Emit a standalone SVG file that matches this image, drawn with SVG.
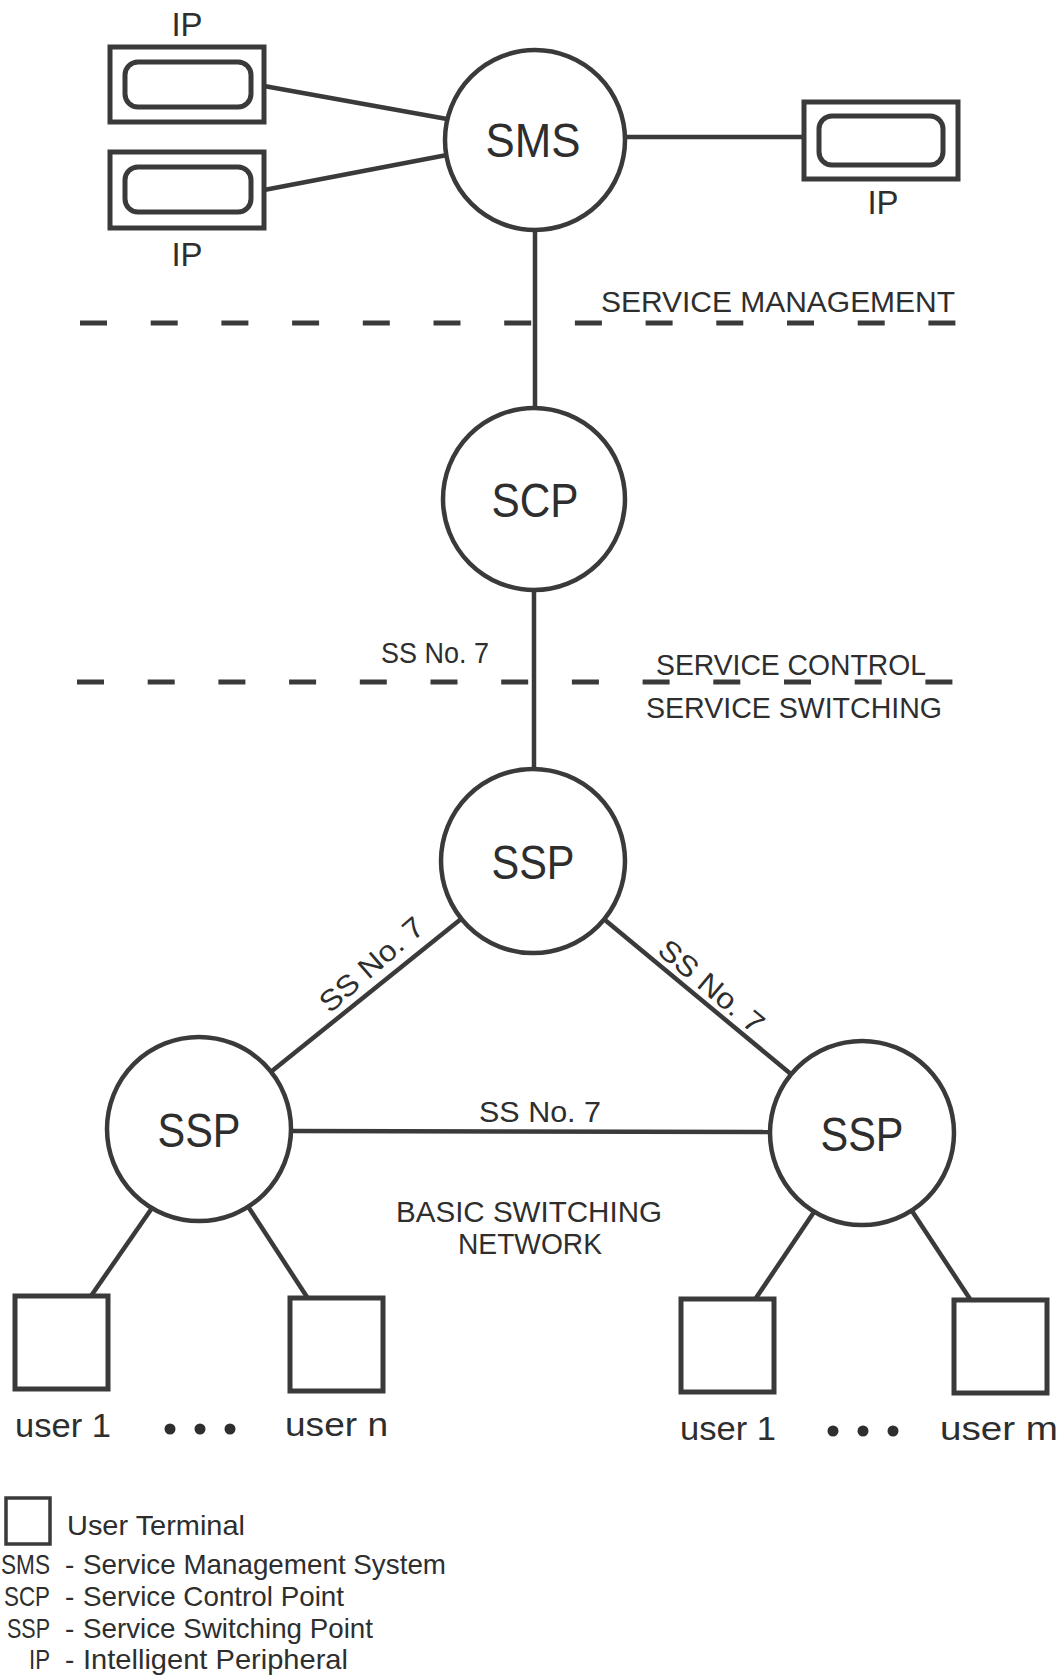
<svg xmlns="http://www.w3.org/2000/svg" width="1064" height="1677" viewBox="0 0 1064 1677">
<style>
.node{fill:#fff;stroke:#3a3a3a;stroke-width:4.5}
.box{fill:#fff;stroke:#3a3a3a;stroke-width:5}
.ln{stroke:#3a3a3a;stroke-width:4.5;fill:none}
.dash{stroke:#3a3a3a;stroke-width:5;stroke-dasharray:27 43.7;fill:none}
text{font-family:"Liberation Sans",Arial,sans-serif;fill:#2e2e2e}
.big{font-size:48px;text-anchor:middle}
.lab{font-size:30px}
.ss{font-size:29px}
.usr{font-size:34px}
.leg{font-size:28px}
</style>
<rect width="1064" height="1677" fill="#fff"/>
<g id="connectors">
<line class="ln" x1="264" y1="86" x2="447" y2="119"/>
<line class="ln" x1="264" y1="190" x2="447" y2="155"/>
<line class="ln" x1="624" y1="137" x2="804" y2="137"/>
<line class="ln" x1="535" y1="230" x2="535" y2="408"/>
<line class="ln" x1="534" y1="590" x2="534" y2="769"/>
<line class="ln" x1="461" y1="919" x2="272" y2="1071"/>
<line class="ln" x1="605" y1="920" x2="792" y2="1075"/>
<line class="ln" x1="291" y1="1131" x2="770" y2="1132"/>
<line class="ln" x1="152" y1="1208" x2="91" y2="1296"/>
<line class="ln" x1="249" y1="1208" x2="307" y2="1297"/>
<line class="ln" x1="814" y1="1212" x2="756" y2="1298"/>
<line class="ln" x1="912" y1="1211" x2="970" y2="1299"/>
</g>
<g id="separators">
<line class="dash" x1="80" y1="323" x2="956" y2="323"/>
<line class="dash" x1="77" y1="682" x2="953" y2="682"/>
<text class="lab" x="601" y="312" textLength="354" lengthAdjust="spacingAndGlyphs">SERVICE MANAGEMENT</text>
<text class="lab" x="656" y="675" textLength="270" lengthAdjust="spacingAndGlyphs">SERVICE CONTROL</text>
<text class="lab" x="646" y="718" textLength="296" lengthAdjust="spacingAndGlyphs">SERVICE SWITCHING</text>
</g>
<g id="ip1">
<rect class="box" x="110" y="47" width="154" height="75"/>
<rect class="box" x="125" y="62" width="126" height="45" rx="13"/>
<text class="big" x="187" y="36" style="font-size:33px">IP</text>
</g>
<g id="ip2">
<rect class="box" x="110" y="152" width="154" height="76"/>
<rect class="box" x="125" y="167" width="126" height="45" rx="13"/>
<text class="big" x="187" y="266" style="font-size:33px">IP</text>
</g>
<g id="ip3">
<rect class="box" x="804" y="102" width="154" height="77"/>
<rect class="box" x="819" y="116" width="124" height="49" rx="13"/>
<text class="big" x="883" y="214" style="font-size:33px">IP</text>
</g>
<g id="sms">
<circle class="node" cx="535" cy="140" r="90"/>
<text class="big" x="533" y="157" textLength="95" lengthAdjust="spacingAndGlyphs">SMS</text>
</g>
<g id="scp">
<circle class="node" cx="534" cy="499" r="91"/>
<text class="big" x="535" y="517" textLength="87" lengthAdjust="spacingAndGlyphs">SCP</text>
</g>
<g id="ssp-top">
<circle class="node" cx="533" cy="861" r="92"/>
<text class="big" x="533" y="879" textLength="83" lengthAdjust="spacingAndGlyphs">SSP</text>
</g>
<g id="ssp-left">
<circle class="node" cx="199" cy="1129" r="92"/>
<text class="big" x="199" y="1147" textLength="83" lengthAdjust="spacingAndGlyphs">SSP</text>
</g>
<g id="ssp-right">
<circle class="node" cx="862" cy="1133" r="92"/>
<text class="big" x="862" y="1151" textLength="83" lengthAdjust="spacingAndGlyphs">SSP</text>
</g>
<g id="link-labels">
<text class="ss" x="381" y="663" textLength="108" lengthAdjust="spacingAndGlyphs">SS No. 7</text>
<text class="ss" x="540" y="1122" text-anchor="middle" textLength="122" lengthAdjust="spacingAndGlyphs">SS No. 7</text>
<text class="ss" x="0" y="0" text-anchor="middle" textLength="128" lengthAdjust="spacingAndGlyphs" transform="translate(378,972) rotate(-41)">SS No. 7</text>
<text class="ss" x="0" y="0" text-anchor="middle" textLength="128" lengthAdjust="spacingAndGlyphs" transform="translate(705,994) rotate(40)">SS No. 7</text>
<text class="lab" x="529" y="1222" text-anchor="middle" textLength="266" lengthAdjust="spacingAndGlyphs">BASIC SWITCHING</text>
<text class="lab" x="530" y="1254" text-anchor="middle" textLength="144" lengthAdjust="spacingAndGlyphs">NETWORK</text>
</g>
<g id="user-l1">
<rect class="box" x="15" y="1296" width="93" height="93"/>
<text class="usr" x="15" y="1437" textLength="96" lengthAdjust="spacingAndGlyphs">user 1</text>
</g>
<g id="user-ln">
<rect class="box" x="290" y="1298" width="93" height="93"/>
<text class="usr" x="285" y="1436" textLength="103" lengthAdjust="spacingAndGlyphs">user n</text>
</g>
<g id="dots-l">
<circle cx="170" cy="1429" r="5.5" fill="#2e2e2e"/>
<circle cx="200" cy="1429" r="5.5" fill="#2e2e2e"/>
<circle cx="230" cy="1429" r="5.5" fill="#2e2e2e"/>
</g>
<g id="user-r1">
<rect class="box" x="681" y="1299" width="93" height="93"/>
<text class="usr" x="680" y="1440" textLength="96" lengthAdjust="spacingAndGlyphs">user 1</text>
</g>
<g id="user-rm">
<rect class="box" x="954" y="1300" width="93" height="93"/>
<text class="usr" x="940" y="1440" textLength="118" lengthAdjust="spacingAndGlyphs">user m</text>
</g>
<g id="dots-r">
<circle cx="833" cy="1431" r="5.5" fill="#2e2e2e"/>
<circle cx="863" cy="1431" r="5.5" fill="#2e2e2e"/>
<circle cx="893" cy="1431" r="5.5" fill="#2e2e2e"/>
</g>
<g id="legend">
<rect x="6" y="1498" width="44" height="46" fill="#fff" stroke="#3a3a3a" stroke-width="3.5"/>
<text class="leg" x="67" y="1535" textLength="178" lengthAdjust="spacingAndGlyphs">User Terminal</text>
<text class="leg" x="1" y="1574" textLength="49" lengthAdjust="spacingAndGlyphs">SMS</text>
<text class="leg" x="65" y="1574">-</text>
<text class="leg" x="83" y="1574" textLength="363" lengthAdjust="spacingAndGlyphs">Service Management System</text>
<text class="leg" x="4" y="1606" textLength="46" lengthAdjust="spacingAndGlyphs">SCP</text>
<text class="leg" x="65" y="1606">-</text>
<text class="leg" x="83" y="1606" textLength="261" lengthAdjust="spacingAndGlyphs">Service Control Point</text>
<text class="leg" x="7" y="1638" textLength="43" lengthAdjust="spacingAndGlyphs">SSP</text>
<text class="leg" x="65" y="1638">-</text>
<text class="leg" x="83" y="1638" textLength="290" lengthAdjust="spacingAndGlyphs">Service Switching Point</text>
<text class="leg" x="29" y="1669" textLength="21" lengthAdjust="spacingAndGlyphs">IP</text>
<text class="leg" x="65" y="1669">-</text>
<text class="leg" x="83" y="1669" textLength="265" lengthAdjust="spacingAndGlyphs">Intelligent Peripheral</text>
</g>
</svg>
